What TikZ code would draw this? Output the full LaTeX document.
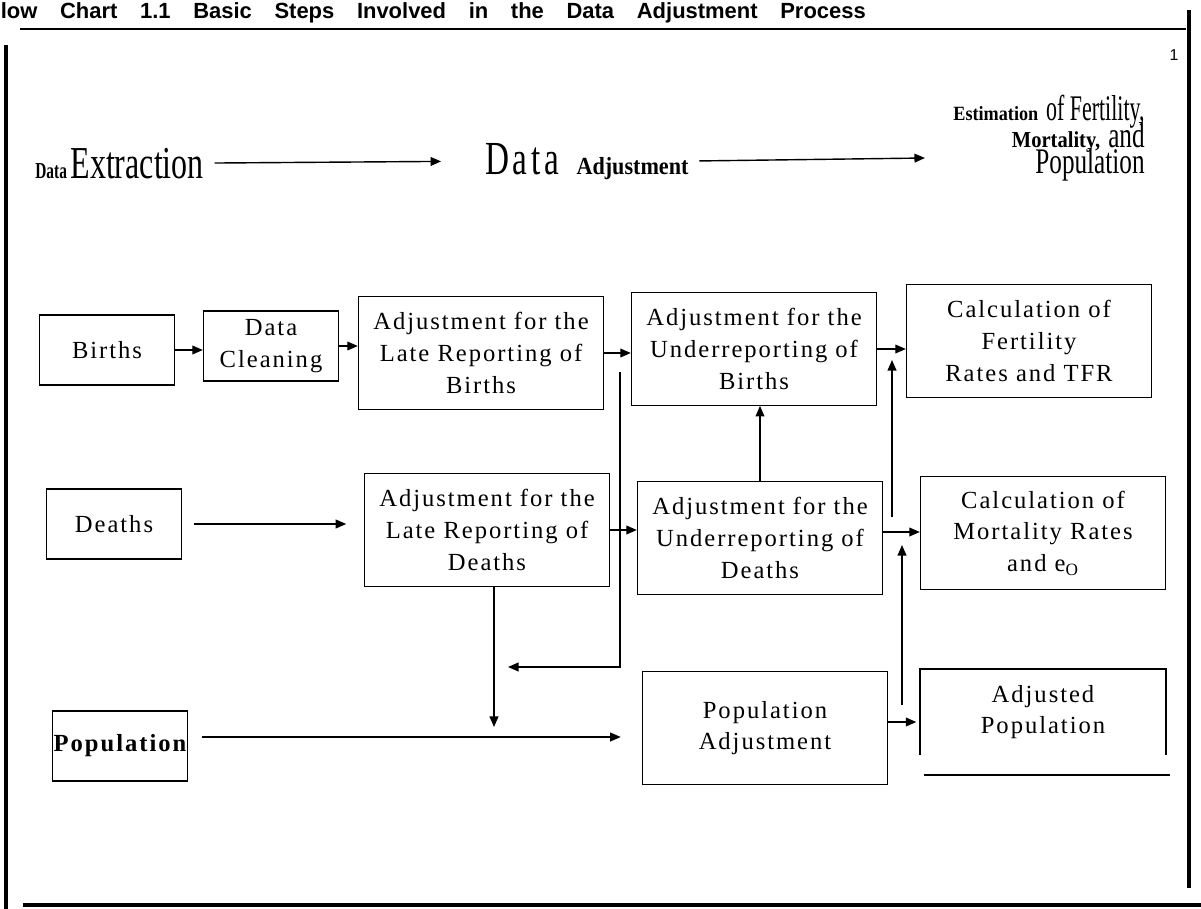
\documentclass[tikz,border=0pt]{standalone}
\usepackage{graphicx}
\usepackage{fontspec}
\setmainfont{Liberation Serif}
\newfontfamily\boxfont[LetterSpace=8]{Liberation Serif}
\newfontfamily\headfont{Liberation Sans}
\usetikzlibrary{arrows.meta,calc}
\newcommand{\smb}[2][13]{\scalebox{0.9}[1]{\bfseries\fontsize{#1}{14}\selectfont #2}}
\newcommand{\tallw}[2][26]{\scalebox{0.7}[1]{\fontsize{#1}{24}\selectfont #2}}
\tikzset{
  blk/.style={draw, line width=0.8pt, align=center, inner sep=0pt, font=\boxfont\fontsize{14}{18}\selectfont},
  sbox/.style={blk, minimum width=2.7cm, minimum height=1.4cm},
  lbox/.style={blk, minimum width=4.9cm, minimum height=2.25cm},
  arr/.style={-{Triangle[length=6pt,width=5pt]}, line width=0.8pt},
  frame/.style={line width=1.8pt}
}
\begin{document}
\begin{tikzpicture}[x=0.02cm, y=-0.02cm]
  \useasboundingbox (0,0) rectangle (1201,909);
  \node[anchor=base west, inner sep=0pt, font=\headfont\bfseries\fontsize{12.5}{14}\selectfont] (title) at (-13,19)
    {\makebox[500pt][s]{Flow Chart 1.1 Basic Steps Involved in the Data Adjustment Process}};
  \draw[line width=1.7pt] (20,29) -- (1186,29);
  \draw[frame] (6,45) -- (6,909);
  \draw[frame] (23,905) -- (1201,905);
  \draw[frame] (1189,10) -- (1189,888);
  \node[font=\headfont\fontsize{9}{10}\selectfont] (pnum) at (1174,55) {1};

  \node[anchor=base west, inner sep=0pt] (ext) at (35,178) {\scalebox{0.75}[1]{\smb[13]{Data}}\hspace{2pt}\tallw{Extraction}};
  \node[anchor=base west, inner sep=0pt] (adj) at (485,174) {\tallw[27]{\addfontfeature{LetterSpace=11}Data}\hspace{10pt}\smb[14]{Adjustment}};
  \node[anchor=north east, align=right, inner sep=0pt, font={\fontsize{18}{15}\selectfont\lineskiplimit=-20pt}] (est) at (1145,95)
    {\smb[11.5]{Estimation} \scalebox{0.87}[1]{\tallw[20.5]{of Fertility,}}\\ \smb{Mortality,} \tallw[20.5]{and}\hspace*{8pt}\\ \tallw[20.5]{Population}};
  \coordinate (e0) at (925,158);
  \draw[arr, shorten <=6pt, shorten >=25pt] (ext.east) -- (adj.west);
  \draw[arr, shorten <=6pt] (adj.east) -- (e0);

  \node[sbox] (births) at (107,350) {Births};
  \node[sbox] (clean) at (271,346) {Data\\ Cleaning};
  \node[lbox] (lateb) at (481,353) {Adjustment for the\\ Late Reporting of\\ Births};
  \node[lbox] (underb) at (754,349) {Adjustment for the\\ Underreporting of\\ Births};
  \node[lbox] (calcf) at (1029,341) {Calculation of\\ Fertility\\ Rates and TFR};

  \node[sbox] (deaths) at (114,524) {Deaths};
  \node[lbox] (lated) at (487,530) {Adjustment for the\\ Late Reporting of\\ Deaths};
  \node[lbox] (underd) at (760,538) {Adjustment for the\\ Underreporting of\\ Deaths};
  \node[lbox] (calcm) at (1043,533) {Calculation of\\ Mortality Rates\\ and e\textsubscript{O}};

  \node[sbox, font=\boxfont\bfseries\fontsize{14}{18}\selectfont] (pop) at (120,746) {Population};
  \node[lbox] (popadj) at (765,728) {Population\\ Adjustment};
  \node[lbox, draw=none, minimum height=1.7cm] (adjpop) at (1043,712) {Adjusted\\ Population};
  \draw[line width=0.8pt] (adjpop.south west) -- (adjpop.north west) -- (adjpop.north east) -- (adjpop.south east);
  \draw[line width=1.1pt] ($(adjpop.south west)+(4,20)$) -- ($(adjpop.south east)+(4,20)$);

  \draw[arr] (births.east) -- (births.east -| clean.west);
  \draw[arr] (clean.east) -- (clean.east -| lateb.west);
  \draw[arr] (lateb.east) -- (lateb.east -| underb.west);
  \draw[arr] (underb.east) -- (underb.east -| calcf.west);
  \draw[arr, shorten <=7pt, shorten >=10pt] (deaths.east) -- (deaths.east -| lated.west);
  \draw[arr] (lated.east) -- (lated.east -| underd.west);
  \draw[arr] ($(underd.east)+(0,-6)$) -- ($(underd.east -| calcm.west)+(0,-6)$);
  \draw[arr] (underd.north) -- (underd.north |- underb.south);
  \draw[arr, shorten <=8pt, shorten >=12pt] ($(pop.east)+(0,-9)$) -- ($(pop.east -| popadj.west)+(0,-9)$);
  \draw[arr, shorten >=2pt] ($(popadj.east)+(0,-6)$) -- ($(popadj.east -| adjpop.west)+(0,-6)$);
  \draw[arr] ($(lated.south)+(7,0)$) -- ($(lated.south |- pop.east)+(7,-19)$);

  \coordinate (bsplit) at (620,372);
  \coordinate (bjoin) at (508,667);
  \draw[arr] (bsplit) |- (bjoin);
  \coordinate (mort0) at (892,517);
  \coordinate (mort1) at (892,360);
  \draw[arr] (mort0) -- (mort1);
  \coordinate (pop0) at (902,705);
  \coordinate (pop1) at (902,545);
  \draw[arr] (pop0) -- (pop1);
\end{tikzpicture}
\end{document}
